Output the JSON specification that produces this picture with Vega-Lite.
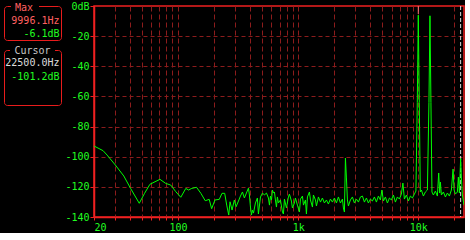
{
  "$schema": "https://vega.github.io/schema/vega-lite/v6.json",
  "background": "#000000",
  "padding": {"left": 0, "top": 0, "right": 0, "bottom": 0},
  "spacing": 1,
  "config": {"view": {"stroke": null}, "font": "DejaVu Sans Mono"},
  "datasets": {
    "spectrum": [
      {"f": 20, "db": -92.9}, {"f": 23.8, "db": -96.0}, {"f": 25.7, "db": -98.9}, {"f": 30.1, "db": -105.5},
      {"f": 35.4, "db": -112.8}, {"f": 40.3, "db": -121.0}, {"f": 47.6, "db": -130.9}, {"f": 52.7, "db": -124.3},
      {"f": 58.4, "db": -118.3}, {"f": 70.8, "db": -115.0}, {"f": 79.0, "db": -117.7}, {"f": 87.0, "db": -118.8},
      {"f": 95.8, "db": -123.2}, {"f": 105.5, "db": -126.9}, {"f": 116.2, "db": -121.0}, {"f": 122.4, "db": -122.1},
      {"f": 130.4, "db": -121.0}, {"f": 142.7, "db": -120.3}, {"f": 155.1, "db": -124.3}, {"f": 168.5, "db": -129.2},
      {"f": 182, "db": -128.3}, {"f": 190.6, "db": -134.5}, {"f": 203, "db": -128.7}, {"f": 220.6, "db": -128.3},
      {"f": 232.4, "db": -124.3}, {"f": 244.8, "db": -124.3}, {"f": 254.4, "db": -132.1}, {"f": 264.4, "db": -138.7},
      {"f": 271.1, "db": -129.9}, {"f": 281.8, "db": -135.4}, {"f": 294.6, "db": -128.7}, {"f": 304.4, "db": -133.2},
      {"f": 318.6, "db": -129.4}, {"f": 331, "db": -126.1}, {"f": 344, "db": -123.4}, {"f": 357, "db": -127.4},
      {"f": 371, "db": -124.1}, {"f": 386, "db": -120.8}, {"f": 393, "db": -125.4}, {"f": 401, "db": -133.4},
      {"f": 409, "db": -138.7}, {"f": 416, "db": -135.4}, {"f": 425, "db": -137.4}, {"f": 441, "db": -130.7},
      {"f": 458, "db": -127.4}, {"f": 467, "db": -138.0}, {"f": 486, "db": -126.7}, {"f": 505, "db": -124.1},
      {"f": 524, "db": -125.4}, {"f": 545, "db": -124.1}, {"f": 566, "db": -127.4}, {"f": 577, "db": -132.1},
      {"f": 588, "db": -126.1}, {"f": 600, "db": -128.7}, {"f": 611, "db": -122.1}, {"f": 623, "db": -124.1},
      {"f": 635, "db": -123.4}, {"f": 647, "db": -128.7}, {"f": 660, "db": -133.4}, {"f": 672, "db": -126.7},
      {"f": 685, "db": -130.7}, {"f": 712, "db": -128.7}, {"f": 740, "db": -136.7}, {"f": 754, "db": -138.0},
      {"f": 769, "db": -128.1}, {"f": 799, "db": -134.0}, {"f": 830, "db": -126.7}, {"f": 846, "db": -124.8},
      {"f": 879, "db": -129.4}, {"f": 896, "db": -134.0}, {"f": 931, "db": -130.7}, {"f": 949, "db": -127.4},
      {"f": 986, "db": -132.1}, {"f": 1025, "db": -136.7}, {"f": 1045, "db": -128.1}, {"f": 1086, "db": -126.1},
      {"f": 1107, "db": -132.1}, {"f": 1150, "db": -128.7}, {"f": 1172, "db": -138.0}, {"f": 1195, "db": -126.7},
      {"f": 1241, "db": -123.4}, {"f": 1266, "db": -128.7}, {"f": 1315, "db": -133.4}, {"f": 1340, "db": -125.4},
      {"f": 1393, "db": -128.7}, {"f": 1420, "db": -132.7}, {"f": 1475, "db": -126.7}, {"f": 1533, "db": -130.1},
      {"f": 1592, "db": -127.4}, {"f": 1654, "db": -130.7}, {"f": 1719, "db": -128.7}, {"f": 1786, "db": -131.4},
      {"f": 1856, "db": -128.1}, {"f": 1929, "db": -130.1}, {"f": 2004, "db": -127.4}, {"f": 2082, "db": -130.7},
      {"f": 2164, "db": -126.7}, {"f": 2248, "db": -130.7}, {"f": 2336, "db": -128.1}, {"f": 2381, "db": -134.0},
      {"f": 2427, "db": -136.7}, {"f": 2474, "db": -100.9}, {"f": 2522, "db": -114.1}, {"f": 2570, "db": -128.7},
      {"f": 2620, "db": -132.7}, {"f": 2722, "db": -128.7}, {"f": 2829, "db": -126.7}, {"f": 2939, "db": -130.7},
      {"f": 3055, "db": -128.1}, {"f": 3174, "db": -130.1}, {"f": 3298, "db": -126.7}, {"f": 3427, "db": -126.1},
      {"f": 3560, "db": -130.1}, {"f": 3700, "db": -127.4}, {"f": 3843, "db": -130.7}, {"f": 3993, "db": -128.1},
      {"f": 4150, "db": -129.4}, {"f": 4312, "db": -126.7}, {"f": 4480, "db": -130.1}, {"f": 4655, "db": -126.1},
      {"f": 4836, "db": -128.7}, {"f": 4977, "db": -122.1}, {"f": 5124, "db": -129.4}, {"f": 5324, "db": -126.7},
      {"f": 5532, "db": -130.7}, {"f": 5748, "db": -127.4}, {"f": 5971, "db": -128.7}, {"f": 6204, "db": -125.4},
      {"f": 6446, "db": -130.1}, {"f": 6699, "db": -126.7}, {"f": 6960, "db": -128.1}, {"f": 7231, "db": -124.8},
      {"f": 7443, "db": -117.5}, {"f": 7660, "db": -128.1}, {"f": 7960, "db": -125.4}, {"f": 8272, "db": -129.4},
      {"f": 8594, "db": -126.1}, {"f": 8930, "db": -127.4}, {"f": 9279, "db": -124.8}, {"f": 9551, "db": -122.8},
      {"f": 9806, "db": -64}, {"f": 9996.1, "db": -6.1}, {"f": 10190, "db": -64}, {"f": 10390, "db": -123.4},
      {"f": 10608, "db": -122.1}, {"f": 11022, "db": -126.1}, {"f": 11452, "db": -123.4}, {"f": 11900, "db": -122.1},
      {"f": 12260, "db": -64}, {"f": 12500, "db": -6.5}, {"f": 12740, "db": -64}, {"f": 12990, "db": -123.4},
      {"f": 13352, "db": -125.4}, {"f": 13872, "db": -122.8}, {"f": 14412, "db": -126.1}, {"f": 14778, "db": -110.8},
      {"f": 15064, "db": -124.1}, {"f": 15266, "db": -116.8}, {"f": 15560, "db": -125.4}, {"f": 16170, "db": -123.4},
      {"f": 16804, "db": -126.7}, {"f": 17460, "db": -124.1}, {"f": 18144, "db": -126.1}, {"f": 18846, "db": -122.1},
      {"f": 19472, "db": -108.2}, {"f": 19848, "db": -122.1}, {"f": 20348, "db": -124.8}, {"f": 21144, "db": -123.4},
      {"f": 21546, "db": -113.5}, {"f": 21968, "db": -124.1}, {"f": 22500, "db": -101.2}, {"f": 22824, "db": -113.5},
      {"f": 23264, "db": -125.4}, {"f": 24000, "db": -132.1}
    ]
  },
  "hconcat": [
    {
      "width": 63,
      "height": 211,
      "data": {"values": [{}]},
      "layer": [
        {
          "mark": {"type": "rect", "filled": false, "stroke": "#e81c1c", "strokeWidth": 1, "cornerRadius": 3},
          "encoding": {
            "x": {"datum": 4.5, "scale": {"domain": [0, 63]}, "axis": null},
            "x2": {"datum": 61.5},
            "y": {"datum": 0.5, "scale": {"domain": [0, 211], "reverse": true}, "axis": null},
            "y2": {"datum": 34.5}
          }
        },
        {
          "mark": {"type": "rect", "filled": false, "stroke": "#e81c1c", "strokeWidth": 1, "cornerRadius": 3},
          "encoding": {
            "x": {"datum": 4.5, "scale": {"domain": [0, 63]}, "axis": null},
            "x2": {"datum": 61.5},
            "y": {"datum": 44.5, "scale": {"domain": [0, 211], "reverse": true}, "axis": null},
            "y2": {"datum": 99.5}
          }
        },
        {
          "mark": {"type": "rect", "fill": "#000000"},
          "encoding": {
            "x": {"datum": 11, "scale": {"domain": [0, 63]}, "axis": null},
            "x2": {"datum": 39},
            "y": {"datum": -3, "scale": {"domain": [0, 211], "reverse": true}, "axis": null},
            "y2": {"datum": 4}
          }
        },
        {
          "mark": {"type": "rect", "fill": "#000000"},
          "encoding": {
            "x": {"datum": 10, "scale": {"domain": [0, 63]}, "axis": null},
            "x2": {"datum": 55},
            "y": {"datum": 41, "scale": {"domain": [0, 211], "reverse": true}, "axis": null},
            "y2": {"datum": 48}
          }
        },
        {
          "mark": {"type": "text", "text": "Max", "fontSize": 10, "color": "#ff6060", "align": "center", "baseline": "middle"},
          "encoding": {
            "x": {"datum": 24, "scale": {"domain": [0, 63]}, "axis": null},
            "y": {"datum": 1.5, "scale": {"domain": [0, 211], "reverse": true}, "axis": null}
          }
        },
        {
          "mark": {"type": "text", "text": "9996.1Hz", "fontSize": 10, "color": "#ff6060", "align": "right", "baseline": "middle"},
          "encoding": {
            "x": {"datum": 59.5, "scale": {"domain": [0, 63]}, "axis": null},
            "y": {"datum": 15, "scale": {"domain": [0, 211], "reverse": true}, "axis": null}
          }
        },
        {
          "mark": {"type": "text", "text": "-6.1dB", "fontSize": 10, "color": "#20ff20", "align": "right", "baseline": "middle"},
          "encoding": {
            "x": {"datum": 59.5, "scale": {"domain": [0, 63]}, "axis": null},
            "y": {"datum": 28, "scale": {"domain": [0, 211], "reverse": true}, "axis": null}
          }
        },
        {
          "mark": {"type": "text", "text": "Cursor", "fontSize": 10, "color": "#c8c8c8", "align": "center", "baseline": "middle"},
          "encoding": {
            "x": {"datum": 32.5, "scale": {"domain": [0, 63]}, "axis": null},
            "y": {"datum": 45, "scale": {"domain": [0, 211], "reverse": true}, "axis": null}
          }
        },
        {
          "mark": {"type": "text", "text": "22500.0Hz", "fontSize": 10, "color": "#dcdcdc", "align": "right", "baseline": "middle"},
          "encoding": {
            "x": {"datum": 59.5, "scale": {"domain": [0, 63]}, "axis": null},
            "y": {"datum": 57, "scale": {"domain": [0, 211], "reverse": true}, "axis": null}
          }
        },
        {
          "mark": {"type": "text", "text": "-101.2dB", "fontSize": 10, "color": "#20ff20", "align": "right", "baseline": "middle"},
          "encoding": {
            "x": {"datum": 59.5, "scale": {"domain": [0, 63]}, "axis": null},
            "y": {"datum": 71, "scale": {"domain": [0, 211], "reverse": true}, "axis": null}
          }
        }
      ]
    },
    {
      "width": 370,
      "height": 211,
      "view": {"stroke": "#f02020", "strokeWidth": 1.5},
      "layer": [
        {
          "data": {"values": [{"f": 22500}]},
          "mark": {"type": "rule", "color": "#d8d8d8", "strokeDash": [4, 2], "strokeWidth": 1},
          "encoding": {
            "x": {"field": "f", "type": "quantitative", "scale": {"type": "log", "domain": [20, 24000], "nice": false}}
          }
        },
        {
          "data": {"name": "spectrum"},
          "mark": {"type": "line", "color": "#00ff00", "strokeWidth": 1, "clip": true},
          "encoding": {
            "x": {
              "field": "f", "type": "quantitative",
              "scale": {"type": "log", "domain": [20, 24000], "nice": false},
              "axis": {
                "title": null,
                "tickCount": 40,
                "values": [20, 30, 40, 50, 60, 70, 80, 90, 100, 200, 300, 400, 500, 600, 700, 800, 900, 1000, 2000, 3000, 4000, 5000, 6000, 7000, 8000, 9000, 10000, 20000],
                "labelExpr": "datum.value == 20 ? '20' : datum.value == 100 ? '100' : datum.value == 1000 ? '1k' : datum.value == 10000 ? '10k' : ''",
                "labelOverlap": false,
                "labelFlush": true,
                "labelBound": false,
                "labelColor": "#20ff20",
                "labelFont": "DejaVu Sans Mono",
                "labelFontSize": 10,
                "labelPadding": 2,
                "grid": true,
                "gridColor": {"condition": {"test": "datum.value == 20", "value": "transparent"}, "value": "#8c1c1c"},
                "gridDash": [5, 3],
                "gridWidth": 1,
                "tickColor": "#f02020",
                "tickSize": 3,
                "domainColor": "#f02020",
                "domainWidth": 1.5
              }
            },
            "y": {
              "field": "db", "type": "quantitative",
              "scale": {"domain": [-140, 0], "nice": false},
              "axis": {
                "title": null,
                "tickCount": 20,
                "values": [0, -20, -40, -60, -80, -100, -120, -140],
                "labelExpr": "datum.value == 0 ? '0dB' : '' + datum.value",
                "labelOverlap": false,
                "labelBound": false,
                "labelFlush": false,
                "labelColor": "#20ff20",
                "labelFont": "DejaVu Sans Mono",
                "labelFontSize": 10,
                "labelPadding": 1,
                "grid": true,
                "gridColor": {"condition": {"test": "datum.value == 0 || datum.value == -140", "value": "transparent"}, "value": "#8c1c1c"},
                "gridDash": [4, 3],
                "gridWidth": 1,
                "tickColor": "#f02020",
                "tickSize": 4,
                "domainColor": "#f02020",
                "domainWidth": 1.5
              }
            }
          }
        },
        {
          "data": {"values": [{"f": 9996.1}]},
          "mark": {"type": "rule", "color": "#ff7a7a", "strokeWidth": 1},
          "encoding": {
            "x": {"field": "f", "type": "quantitative"},
            "y": {"datum": 0},
            "y2": {"datum": -5.3}
          }
        }
      ]
    }
  ]
}
